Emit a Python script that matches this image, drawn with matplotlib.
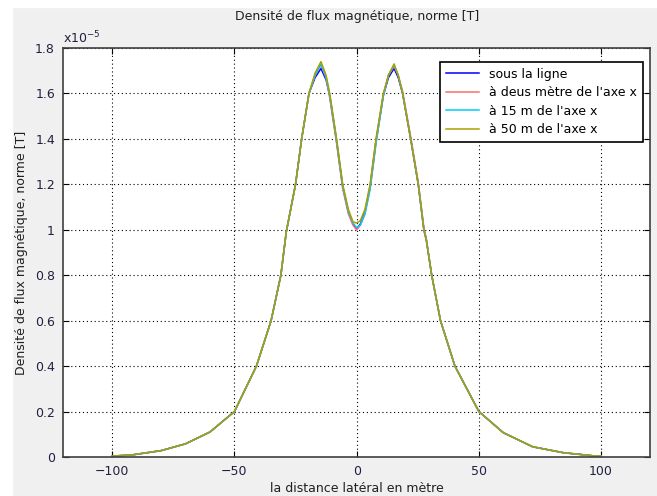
import numpy as np
import matplotlib
matplotlib.use('Agg')
import matplotlib.pyplot as plt
from matplotlib.patches import Rectangle

# distance latérale [m]
x = [-100, -92, -80, -70, -60, -50, -41, -35, -31, -28.8, -25, -22.5, -19.5, -17,
     -14.6, -12.5, -11, -8.2, -5.7, -3.4, -1.5, 0, 1.5, 3.4, 5.5, 7.9, 10.9, 13,
     15.3, 17, 18.8, 22.1, 25.2, 27.5, 28.5, 30.7, 34.3, 40.2, 50, 60, 72, 84.5, 97, 100]

# densité de flux, en 1e-5 T
b_sous_ligne = [0.004, 0.009, 0.028, 0.058, 0.11, 0.20, 0.40, 0.60, 0.80, 0.99, 1.2, 1.4, 1.6, 1.67,
                1.71, 1.66, 1.59, 1.39, 1.19, 1.08, 1.025, 1.005, 1.025, 1.08, 1.19, 1.39, 1.59, 1.67,
                1.71, 1.67, 1.6, 1.4, 1.2, 1.0, 0.955, 0.80, 0.60, 0.40, 0.20, 0.107, 0.045, 0.019, 0.005, 0.004]
b_deux_m = [0.004, 0.009, 0.028, 0.058, 0.11, 0.20, 0.40, 0.60, 0.80, 0.99, 1.2, 1.4, 1.6, 1.68,
            1.725, 1.67, 1.58, 1.38, 1.18, 1.07, 1.02, 1.0, 1.02, 1.07, 1.18, 1.38, 1.59, 1.68,
            1.72, 1.68, 1.61, 1.41, 1.21, 1.01, 0.96, 0.80, 0.60, 0.40, 0.20, 0.107, 0.045, 0.019, 0.005, 0.004]
b_15_m = [0.004, 0.009, 0.028, 0.058, 0.11, 0.20, 0.40, 0.60, 0.80, 0.99, 1.2, 1.4, 1.6, 1.68,
          1.73, 1.67, 1.59, 1.39, 1.19, 1.08, 1.03, 1.01, 1.02, 1.07, 1.18, 1.38, 1.59, 1.68,
          1.725, 1.68, 1.6, 1.4, 1.2, 1.0, 0.955, 0.80, 0.60, 0.40, 0.20, 0.107, 0.045, 0.019, 0.005, 0.004]
b_50_m = [0.004, 0.009, 0.028, 0.058, 0.11, 0.20, 0.40, 0.60, 0.80, 0.99, 1.2, 1.4, 1.6, 1.69,
          1.74, 1.68, 1.6, 1.4, 1.2, 1.09, 1.035, 1.03, 1.04, 1.09, 1.2, 1.4, 1.6, 1.68,
          1.73, 1.68, 1.6, 1.4, 1.2, 1.0, 0.955, 0.80, 0.60, 0.40, 0.20, 0.107, 0.045, 0.019, 0.005, 0.004]

series = [
    (b_sous_ligne, '#0000ff', 'sous la ligne'),
    (b_deux_m, '#ff6a6a', "à deus mètre de l'axe x"),
    (b_15_m, '#00ccff', "à 15 m de l'axe x"),
    (b_50_m, '#a8a000', "à 50 m de l'axe x"),
]

plt.rcParams['font.family'] = 'DejaVu Sans'
plt.rcParams['font.size'] = 9

fig = plt.figure(figsize=(6.57, 4.96), dpi=100, facecolor='#f0f0f0')
# bords blancs de la capture
fig.add_artist(Rectangle((0, 0), 12 / 657, 1, transform=fig.transFigure, color='white', zorder=0))
fig.add_artist(Rectangle((0, 1 - 7 / 496), 1, 7 / 496, transform=fig.transFigure, color='white', zorder=0))

ax = fig.add_axes([63.3 / 657, 39 / 496, (650 - 63.3) / 657, (457 - 48) / 496])
for vals, col, lab in series:
    ax.plot(x, vals, color=col, lw=1.1, label=lab)

ax.set_xlim(-120, 120)
ax.set_ylim(0, 1.8)
ax.set_xticks([-100, -50, 0, 50, 100])
ax.set_yticks(np.arange(0, 1.81, 0.2))
ax.set_yticklabels(['0', '0.2', '0.4', '0.6', '0.8', '1', '1.2', '1.4', '1.6', '1.8'])
ax.tick_params(direction='in', top=True, right=True, length=4, pad=6, colors='black',
               labelcolor='#202040', labelsize=9)
ax.grid(True, color='black', linestyle=(0, (1, 2.5)), lw=0.8)
for s in ax.spines.values():
    s.set_color('#404040')
    s.set_linewidth(1.2)

ax.text(0.0, 1.003, 'x10$^{-5}$', transform=ax.transAxes, ha='left', va='bottom',
        fontsize=9, color='#202040')
ax.set_title('Densité de flux magnétique, norme [T]', fontsize=9, pad=20, color='#202020')
ax.set_xlabel('la distance latéral en mètre', fontsize=9, labelpad=3, color='#202020')
ax.set_ylabel('Densité de flux magnétique, norme [T]', fontsize=9, labelpad=5, color='#202020')

leg = ax.legend(loc='upper right', bbox_to_anchor=(0.988, 0.966), fontsize=9, fancybox=False,
                framealpha=1, edgecolor='black', borderaxespad=0, handlelength=2.7,
                labelspacing=0.45, borderpad=0.45)
leg.get_frame().set_linewidth(1.2)

fig.savefig('out.png', dpi=100, facecolor=fig.get_facecolor())
